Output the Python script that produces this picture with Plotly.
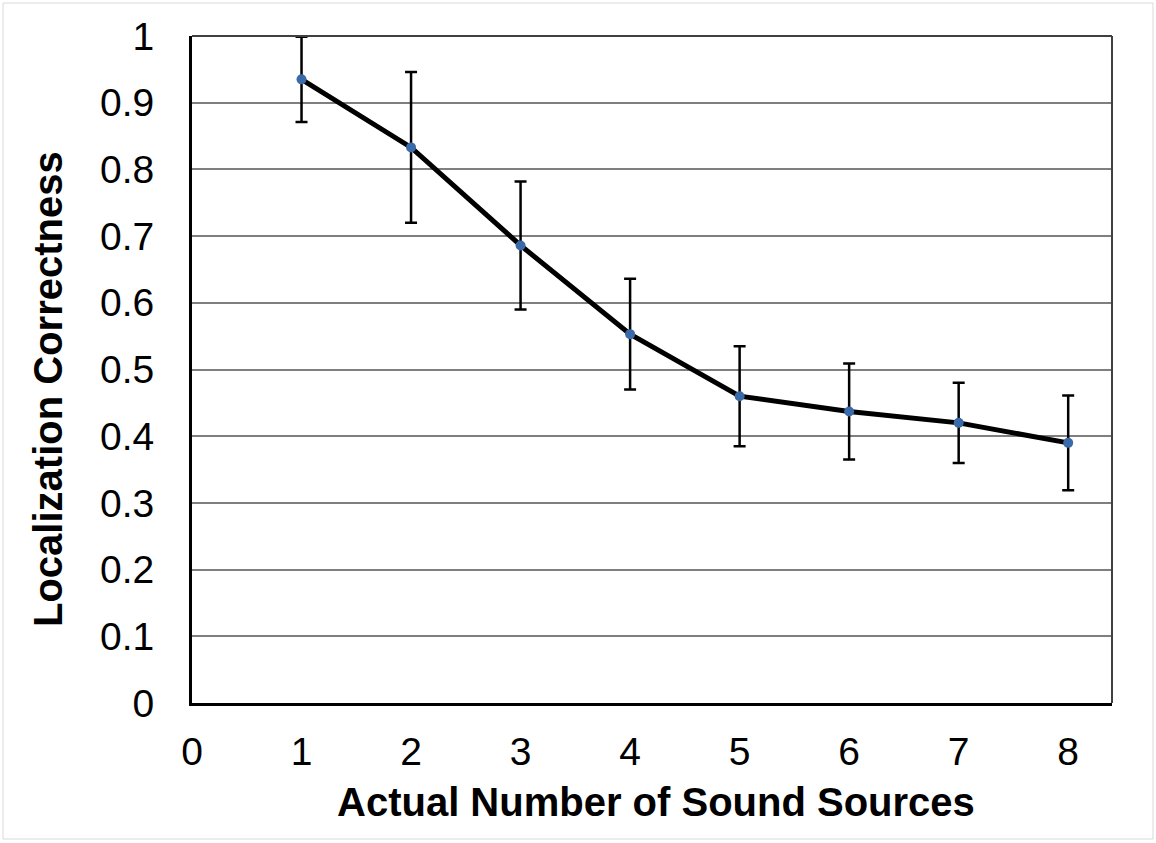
import plotly.graph_objects as go

# ---- data ----
sources = [1, 2, 3, 4, 5, 6, 7, 8]
correctness = [0.935, 0.833, 0.686, 0.553, 0.460, 0.437, 0.420, 0.390]
error = [0.064, 0.113, 0.096, 0.083, 0.075, 0.072, 0.060, 0.071]
x_ticks = [0, 1, 2, 3, 4, 5, 6, 7, 8]
y_ticks = [0, 0.1, 0.2, 0.3, 0.4, 0.5, 0.6, 0.7, 0.8, 0.9, 1]
y_tick_text = ["0", "0.1", "0.2", "0.3", "0.4", "0.5", "0.6", "0.7", "0.8", "0.9", "1"]
x_title = "Actual Number of Sound Sources"
y_title = "Localization Correctness"

W, H = 1156, 843
L, R, T, B = 192, 44, 36, 140
pw, ph = W - L - R, H - T - B


def px2x(px):
    return (px - L) / pw


def py2y(py):
    return 1 - (py - T) / ph


fig = go.Figure()
fig.add_trace(go.Scatter(
    x=sources, y=correctness,
    mode="lines+markers",
    line=dict(color="black", width=5),
    marker=dict(color="#3A6AA8", size=10),
    error_y=dict(type="data", array=error, visible=True,
                 color="black", thickness=2.5, width=6),
    showlegend=False,
    cliponaxis=True,
))

font = "Liberation Sans, Arial, sans-serif"
fig.update_layout(
    width=W, height=H,
    margin=dict(l=L, r=R, t=T, b=B, autoexpand=False),
    paper_bgcolor="white", plot_bgcolor="white",
    font=dict(family=font, color="black"),
    xaxis=dict(
        range=[0, 8.4], tickvals=x_ticks, ticktext=[str(v) for v in x_ticks],
        showgrid=False, zeroline=False,
        showline=True, linecolor="black", linewidth=3,
        ticks="", ticklabelstandoff=12,
        tickfont=dict(size=39, family=font, color="black"),
        fixedrange=True,
    ),
    yaxis=dict(
        range=[0, 1], tickvals=y_ticks, ticktext=y_tick_text,
        showgrid=True, gridcolor="#7f7f7f", gridwidth=1.5,
        zeroline=False,
        showline=True, linecolor="black", linewidth=3,
        ticks="", ticklabelstandoff=27,
        tickfont=dict(size=39, family=font, color="black"),
        fixedrange=True,
    ),
)

# axis titles as annotations (precise placement)
fig.add_annotation(text="<b>" + x_title + "</b>", xref="paper", yref="paper",
                   x=px2x(656), y=py2y(802), xanchor="center", yanchor="middle",
                   showarrow=False, font=dict(size=40, family=font, color="black"))
fig.add_annotation(text="<b>" + y_title + "</b>", xref="paper", yref="paper",
                   x=px2x(48), y=py2y(389), xanchor="center", yanchor="middle",
                   textangle=-90,
                   showarrow=False, font=dict(size=40, family=font, color="black"))

# thin top/right frame of the plot area
fig.add_shape(type="line", xref="paper", yref="paper", x0=0, x1=1, y0=1, y1=1,
              line=dict(color="#404040", width=2), layer="above")
fig.add_shape(type="line", xref="paper", yref="paper", x0=1, x1=1, y0=0, y1=1,
              line=dict(color="#404040", width=2), layer="above")

# light outer border of the picture
fig.add_shape(type="rect", xref="paper", yref="paper",
              x0=px2x(3), x1=px2x(W - 3), y0=py2y(3), y1=py2y(H - 4),
              line=dict(color="#d9d9d9", width=1), layer="below")

fig.write_html("out.html")
